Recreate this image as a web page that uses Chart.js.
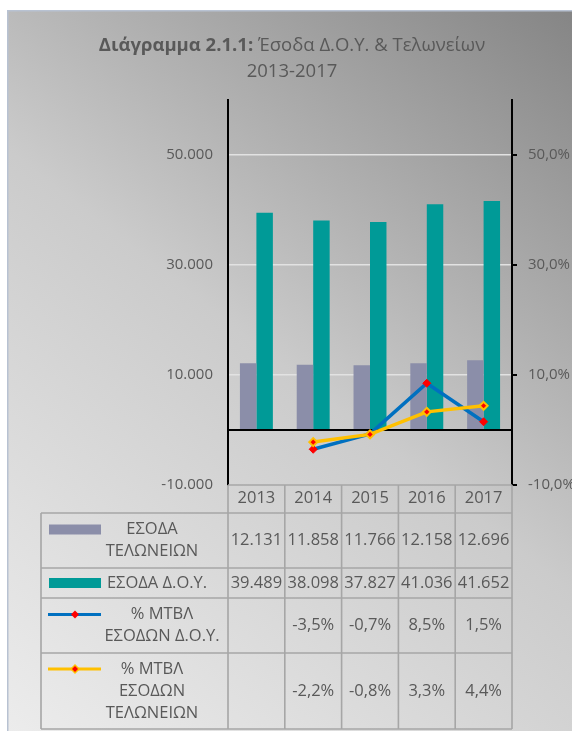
<!DOCTYPE html>
<html>
<head>
<meta charset="utf-8">
<script src="https://cdn.jsdelivr.net/npm/chart.js@4.4.0/dist/chart.umd.min.js"></script>
<style>
  html, body { margin: 0; padding: 0; background: #fff; }
  canvas { display: block; }
</style>
</head>
<body>
<canvas id="myChart" width="572" height="731"></canvas>
<script>
// values (millions €, yearly % change)
const years = ['2013', '2014', '2015', '2016', '2017'];
const customsRevenue = [12131, 11858, 11766, 12158, 12696];
const doyRevenue = [39489, 38098, 37827, 41036, 41652];
const doyChange = [null, -3.5, -0.7, 8.5, 1.5];
const customsChange = [null, -2.2, -0.8, 3.3, 4.4];
const leftTicks = [-10000, 0, 10000, 30000, 50000];
const rightTicks = [-10, 10, 30, 50];

const greyBar = '#8b8ea9';
const tealBar = '#009a97';
const blueLine = '#0070c0';
const yellowLine = '#ffc000';
const textCol = '#595959';
const FONT = '"Open Sans", sans-serif';

const thousands = v => String(v).replace(/\B(?=(\d{3})+(?!\d))/g, '.');
const pct = v => v.toFixed(1).replace('.', ',') + '%';

// background gradient + frame
const backgroundPlugin = {
  id: 'bg',
  beforeDraw(chart) {
    const { ctx, width, height } = chart;
    ctx.save();
    ctx.fillStyle = '#fff';
    ctx.fillRect(0, 0, width, height);
    const g = ctx.createLinearGradient(width, 10, 7, height);
    g.addColorStop(0, '#858585');
    g.addColorStop(0.5, '#cbcbcb');
    g.addColorStop(1, '#ececec');
    ctx.fillStyle = g;
    ctx.fillRect(7, 10, width - 7, height - 10);
    ctx.strokeStyle = '#b8c2d2';
    ctx.lineWidth = 1.5;
    ctx.strokeRect(7.75, 10.75, width, height);
    ctx.restore();
  }
};

// two-line title, first part bold
const titlePlugin = {
  id: 'titleMix',
  afterDraw(chart) {
    const { ctx } = chart;
    const bold = 'Διάγραμμα 2.1.1:';
    const rest = ' Έσοδα Δ.Ο.Υ. & Τελωνείων';
    const size = 18.5;
    ctx.save();
    ctx.fillStyle = textCol;
    ctx.textBaseline = 'middle';
    ctx.font = 'bold ' + size + 'px ' + FONT;
    const w1 = ctx.measureText(bold).width;
    ctx.font = size + 'px ' + FONT;
    const w2 = ctx.measureText(rest).width;
    const x0 = 292 - (w1 + w2) / 2;
    ctx.textAlign = 'left';
    ctx.font = 'bold ' + size + 'px ' + FONT;
    ctx.fillText(bold, x0, 46);
    ctx.font = size + 'px ' + FONT;
    ctx.fillText(rest, x0 + w1, 46);
    ctx.textAlign = 'center';
    ctx.fillText('2013-2017', 292, 72);
    ctx.restore();
  }
};

// data table under the plot (years header + rows with legend keys)
const tableRows = [
  { label: ['ΕΣΟΔΑ', 'ΤΕΛΩΝΕΙΩΝ'], values: customsRevenue, fmt: thousands, kind: 'bar', color: greyBar, h: 55, cx: 152 },
  { label: ['ΕΣΟΔΑ Δ.Ο.Υ.'], values: doyRevenue, fmt: thousands, kind: 'bar', color: tealBar, h: 30, cx: 157 },
  { label: ['% ΜΤΒΛ', 'ΕΣΟΔΩΝ Δ.Ο.Υ.'], values: doyChange, fmt: pct, kind: 'line', color: blueLine, h: 55, cx: 162 },
  { label: ['% ΜΤΒΛ', 'ΕΣΟΔΩΝ', 'ΤΕΛΩΝΕΙΩΝ'], values: customsChange, fmt: pct, kind: 'line', color: yellowLine, h: 76, cx: 152 }
];

const tablePlugin = {
  id: 'dataTable',
  afterDraw(chart) {
    const { ctx, chartArea } = chart;
    const x = chart.scales.x;
    const half = (x.getPixelForValue(1) - x.getPixelForValue(0)) / 2;
    const bounds = [x.getPixelForValue(0) - half];
    years.forEach((y, i) => bounds.push(x.getPixelForValue(i) + half));
    const top = chartArea.bottom;
    const headBottom = top + 28;
    const left = 41;
    const lineH = 22;

    ctx.save();
    ctx.strokeStyle = '#a6a6a6';
    ctx.lineWidth = 1.6;
    ctx.fillStyle = textCol;
    ctx.font = '16.5px ' + FONT;
    ctx.textAlign = 'center';
    ctx.textBaseline = 'middle';

    // header row with years
    ctx.beginPath();
    ctx.moveTo(bounds[0], top); ctx.lineTo(bounds[bounds.length - 1], top);
    bounds.forEach(b => { ctx.moveTo(b, top); ctx.lineTo(b, headBottom); });
    ctx.stroke();
    years.forEach((y, i) => ctx.fillText(y, x.getPixelForValue(i), top + 13));

    // body rows
    let yTop = headBottom;
    ctx.beginPath();
    ctx.moveTo(left, yTop); ctx.lineTo(bounds[bounds.length - 1], yTop);
    tableRows.forEach(row => {
      const yB = yTop + row.h;
      ctx.moveTo(left, yB); ctx.lineTo(bounds[bounds.length - 1], yB);
      ctx.moveTo(left, yTop); ctx.lineTo(left, yB);
      bounds.forEach(b => { ctx.moveTo(b, yTop); ctx.lineTo(b, yB); });
      row.y0 = yTop; row.y1 = yB;
      yTop = yB;
    });
    ctx.stroke();

    tableRows.forEach(row => {
      const mid = (row.y0 + row.y1) / 2;
      const firstLine = mid - (row.label.length - 1) * lineH / 2;
      // legend key
      if (row.kind === 'bar') {
        ctx.fillStyle = row.color;
        ctx.fillRect(49, firstLine - 5, 52, 10);
      } else {
        ctx.strokeStyle = row.color;
        ctx.lineWidth = 3;
        ctx.beginPath();
        ctx.moveTo(48, firstLine); ctx.lineTo(101, firstLine);
        ctx.stroke();
        const r = row.color === yellowLine ? 5 : 4;
        ctx.beginPath();
        ctx.moveTo(75, firstLine - r); ctx.lineTo(75 + r, firstLine);
        ctx.lineTo(75, firstLine + r); ctx.lineTo(75 - r, firstLine);
        ctx.closePath();
        ctx.fillStyle = row.color === yellowLine ? yellowLine : 'red';
        ctx.fill();
        if (row.color === yellowLine) {
          ctx.beginPath();
          ctx.moveTo(75, firstLine - 3); ctx.lineTo(78, firstLine);
          ctx.lineTo(75, firstLine + 3); ctx.lineTo(72, firstLine);
          ctx.closePath();
          ctx.fillStyle = 'red';
          ctx.fill();
        }
      }
      ctx.fillStyle = textCol;
      row.label.forEach((t, k) => ctx.fillText(t, row.cx, firstLine + k * lineH));
      row.values.forEach((v, i) => {
        if (v !== null) ctx.fillText(row.fmt(v), x.getPixelForValue(i), mid);
      });
    });
    ctx.restore();
  }
};

const ctx = document.getElementById('myChart');

new Chart(ctx, {
  data: {
    labels: years,
    datasets: [
      {
        type: 'line', label: '% ΜΤΒΛ ΕΣΟΔΩΝ ΤΕΛΩΝΕΙΩΝ', data: customsChange, yAxisID: 'y1', order: 0,
        borderColor: yellowLine, borderWidth: 3.5, pointStyle: 'rectRot', pointRadius: 4,
        pointBackgroundColor: 'red', pointBorderColor: yellowLine, pointBorderWidth: 2, spanGaps: false
      },
      {
        type: 'line', label: '% ΜΤΒΛ ΕΣΟΔΩΝ Δ.Ο.Υ.', data: doyChange, yAxisID: 'y1', order: 1,
        borderColor: blueLine, borderWidth: 3.5, pointStyle: 'rectRot', pointRadius: 4,
        pointBackgroundColor: 'red', pointBorderColor: 'red', pointBorderWidth: 1
      },
      {
        type: 'bar', label: 'ΕΣΟΔΑ ΤΕΛΩΝΕΙΩΝ', data: customsRevenue, yAxisID: 'y', order: 2,
        backgroundColor: greyBar, categoryPercentage: 0.58, barPercentage: 1
      },
      {
        type: 'bar', label: 'ΕΣΟΔΑ Δ.Ο.Υ.', data: doyRevenue, yAxisID: 'y', order: 3,
        backgroundColor: tealBar, categoryPercentage: 0.58, barPercentage: 1
      }
    ]
  },
  options: {
    responsive: false,
    animation: false,
    layout: { padding: { top: 100, bottom: 246, left: 0, right: 0 } },
    plugins: { legend: { display: false }, tooltip: { enabled: false }, title: { display: false } },
    scales: {
      x: { display: false, grid: { display: false } },
      y: {
        position: 'left', min: -10000, max: 60000,
        afterBuildTicks: s => { s.ticks = leftTicks.map(v => ({ value: v })); },
        afterFit: s => { s.width = 228; },
        border: { color: '#000', width: 2 },
        grid: {
          drawTicks: false,
          color: c => c.tick.value === 0 ? '#000' : (c.tick.value === -10000 ? 'rgba(0,0,0,0)' : '#e2e2e2'),
          lineWidth: c => c.tick.value === 0 ? 2 : 1.5
        },
        ticks: {
          padding: 15, color: textCol, font: { family: FONT, size: 15 },
          callback: v => v === 0 ? '' : thousands(v)
        }
      },
      y1: {
        position: 'right', min: -10, max: 60,
        afterBuildTicks: s => { s.ticks = rightTicks.map(v => ({ value: v })); },
        afterFit: s => { s.width = 60; },
        border: { color: '#000', width: 2 },
        grid: { drawOnChartArea: false, drawTicks: true, tickLength: 5, color: '#000', lineWidth: 2 },
        ticks: {
          padding: 11, color: textCol, font: { family: FONT, size: 15 },
          callback: v => pct(v)
        }
      }
    }
  },
  plugins: [backgroundPlugin, titlePlugin, tablePlugin]
});
</script>
</body>
</html>
